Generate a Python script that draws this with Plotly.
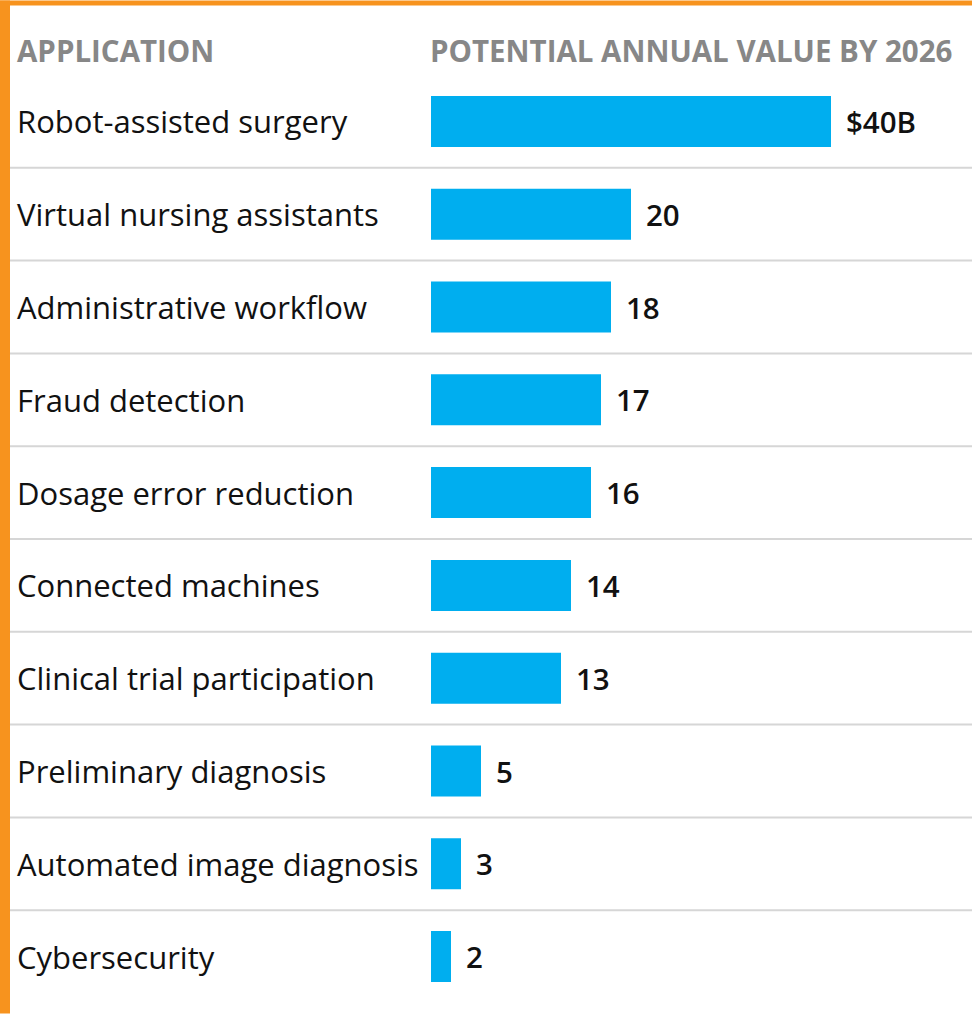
import plotly.graph_objects as go

categories = [
    "Robot-assisted surgery",
    "Virtual nursing assistants",
    "Administrative workflow",
    "Fraud detection",
    "Dosage error reduction",
    "Connected machines",
    "Clinical trial participation",
    "Preliminary diagnosis",
    "Automated image diagnosis",
    "Cybersecurity",
]
values = [40, 20, 18, 17, 16, 14, 13, 5, 3, 2]
value_labels = ["$40B", "20", "18", "17", "16", "14", "13", "5", "3", "2"]
header_left = "APPLICATION"
header_right = "POTENTIAL ANNUAL VALUE BY 2026"

W, H = 972, 1014
L, R, T, B = 431, 0, 74.5, 10.5
PW = W - L - R
PH = H - T - B
px_per_unit = 10.0
x_max = PW / px_per_unit

def px_to_paper_x(px):
    return (px - L) / PW

def px_to_paper_y(py):
    return 1 - (py - T) / PH

BAR_COLOR = "#00AEEF"
ORANGE = "#F7931E"
FONT = "Open Sans"

fig = go.Figure()
fig.add_trace(go.Bar(
    y=categories, x=values, orientation="h",
    marker=dict(color=BAR_COLOR, line=dict(width=0)),
    hoverinfo="skip",
))

annotations = []
for cat, v, lab in zip(categories, values, value_labels):
    annotations.append(dict(
        x=v, y=cat, xref="x", yref="y", text=lab, showarrow=False,
        xanchor="left", yanchor="middle", xshift=13,
        font=dict(family=FONT, size=29.5, color="#111111", weight=600),
    ))
    annotations.append(dict(
        x=px_to_paper_x(15), y=cat, xref="paper", yref="y", text=cat,
        showarrow=False, xanchor="left", yanchor="middle",
        font=dict(family=FONT, size=31, color="#111111"),
    ))

annotations.append(dict(
    x=px_to_paper_x(15), y=px_to_paper_y(50), xref="paper", yref="paper",
    text=header_left, showarrow=False, xanchor="left", yanchor="middle",
    font=dict(family=FONT, size=29.5, color="#878787", weight="bold"),
))
annotations.append(dict(
    x=px_to_paper_x(428), y=px_to_paper_y(50), xref="paper", yref="paper",
    text=header_right, showarrow=False, xanchor="left", yanchor="middle",
    font=dict(family=FONT, size=29.5, color="#878787", weight="bold"),
))

shapes = []
n = len(categories)
for i in range(n - 1):
    shapes.append(dict(
        type="line", xref="paper", yref="y",
        x0=px_to_paper_x(10), x1=1, y0=i + 0.5, y1=i + 0.5,
        line=dict(color="#D6D6D6", width=2), layer="below",
    ))
# orange frame (left and top)
shapes.append(dict(type="rect", xref="paper", yref="paper",
                   x0=px_to_paper_x(0), x1=px_to_paper_x(10),
                   y0=px_to_paper_y(H), y1=px_to_paper_y(0),
                   fillcolor=ORANGE, line=dict(width=0), layer="above"))
shapes.append(dict(type="rect", xref="paper", yref="paper",
                   x0=px_to_paper_x(0), x1=px_to_paper_x(W),
                   y0=px_to_paper_y(5), y1=px_to_paper_y(0),
                   fillcolor=ORANGE, line=dict(width=0), layer="above"))

fig.update_layout(
    width=W, height=H,
    margin=dict(l=L, r=R, t=T, b=B, pad=0),
    paper_bgcolor="white", plot_bgcolor="white",
    bargap=0.45, showlegend=False,
    xaxis=dict(range=[0, x_max], visible=False, fixedrange=True),
    yaxis=dict(categoryorder="array", categoryarray=categories,
               autorange="reversed", visible=False, fixedrange=True),
    annotations=annotations, shapes=shapes,
)

fig.write_html(
    "out.html",
    config={"displayModeBar": False},
    post_script="document.body.style.margin='0';document.body.style.overflow='hidden';",
)
